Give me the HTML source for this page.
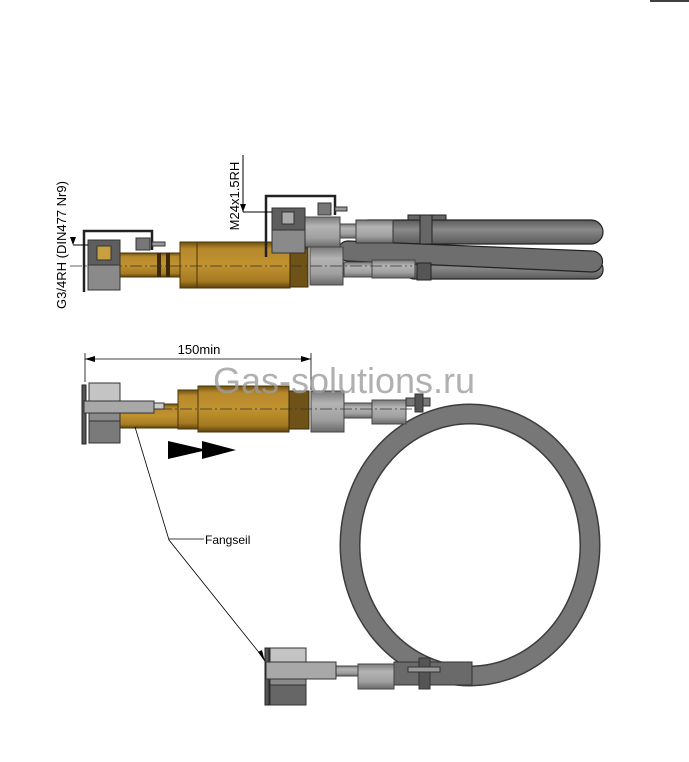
<!DOCTYPE html>
<html><head><meta charset="utf-8"><style>
html,body{margin:0;padding:0;background:#fff;width:689px;height:762px;overflow:hidden}
svg{display:block}
text{font-family:"Liberation Sans",Arial,sans-serif}
</style></head><body>
<svg width="689" height="762" viewBox="0 0 689 762" xmlns="http://www.w3.org/2000/svg">
<defs>
<linearGradient id="br" x1="0" y1="0" x2="0" y2="1">
<stop offset="0" stop-color="#6e4f12"/><stop offset="0.15" stop-color="#b8892c"/><stop offset="0.5" stop-color="#c0922f"/><stop offset="0.85" stop-color="#a67a22"/><stop offset="1" stop-color="#5e430f"/></linearGradient>
<linearGradient id="gr" x1="0" y1="0" x2="0" y2="1">
<stop offset="0" stop-color="#7a7a7a"/><stop offset="0.3" stop-color="#b4b4b4"/><stop offset="0.7" stop-color="#a0a0a0"/><stop offset="1" stop-color="#6a6a6a"/></linearGradient>
<linearGradient id="hs" x1="0" y1="0" x2="0" y2="1">
<stop offset="0" stop-color="#5a5a5a"/><stop offset="0.4" stop-color="#8a8a8a"/><stop offset="1" stop-color="#5a5a5a"/></linearGradient>
</defs>
<line x1="650" y1="1" x2="689" y2="1" stroke="#000" stroke-width="1.5"/>

<!-- TOP hoses (absolute) -->
<rect x="356" y="220" width="247" height="24" rx="12" fill="url(#hs)" stroke="#222" stroke-width="1.2"/>
<rect x="405" y="260" width="198" height="19" rx="9" fill="url(#hs)" stroke="#222" stroke-width="1.2"/>
<path d="M348,241 L592,251 A10.5,10.5 0 0 1 592,272 L348,261 A10,10 0 0 1 348,241 Z" fill="#6e6e6e" stroke="#222" stroke-width="1.2"/>
<rect x="356" y="220" width="37" height="23" fill="url(#gr)" stroke="#333"/>
<rect x="339" y="224" width="17" height="14" fill="url(#gr)" stroke="#444"/>
<rect x="408" y="215" width="38" height="5" fill="#666" stroke="#222"/>
<rect x="420" y="215" width="12" height="29" fill="#666" stroke="#222"/>
<rect x="344" y="262" width="30" height="15" fill="url(#gr)" stroke="#444"/>
<rect x="372" y="260" width="43" height="18" fill="url(#gr)" stroke="#444"/>
<rect x="417" y="263" width="14" height="17" fill="#555" stroke="#222"/>

<g transform="translate(0,-12)">
<rect x="310" y="259" width="33" height="38" fill="url(#gr)" stroke="#444"/>
<rect x="120" y="265" width="60" height="24" fill="url(#br)" stroke="#4a3508"/>
<rect x="157" y="265" width="4" height="24" fill="#3a2806"/><rect x="166" y="265" width="4" height="24" fill="#3a2806"/>
<rect x="180" y="254" width="17" height="46" fill="url(#br)" stroke="#4a3508"/>
<rect x="197" y="254" width="93" height="46" fill="url(#br)" stroke="#4a3508"/>
<rect x="290" y="260" width="18" height="39" fill="#6e5218" stroke="#3a2806"/>
<line x1="70" y1="278" x2="412" y2="278" stroke="#333" stroke-width="0.8" stroke-dasharray="12,3,2,3"/>
<rect x="88" y="252" width="32" height="50" fill="#8a8a8a" stroke="#333"/>
<rect x="88" y="252" width="32" height="25" fill="#5e5e5e" stroke="#333"/>
<rect x="97" y="258" width="14" height="14" fill="#c8a040" stroke="#333"/>
<path d="M84,304 V243 H152 V262" fill="none" stroke="#222" stroke-width="2.5"/>
<rect x="136" y="250" width="14" height="12" fill="#777" stroke="#333"/>
<rect x="152" y="254" width="13" height="4" fill="#999" stroke="#333"/>
<rect x="305" y="229" width="35" height="30" fill="url(#gr)" stroke="#444"/>
<rect x="272" y="220" width="33" height="45" fill="#8a8a8a" stroke="#333"/>
<rect x="272" y="220" width="33" height="22" fill="#5e5e5e" stroke="#333"/>
<rect x="282" y="224" width="12" height="12" fill="#aaa" stroke="#333"/>
<path d="M266,269 V208 H335 V227" fill="none" stroke="#222" stroke-width="2.5"/>
<rect x="318" y="215" width="13" height="12" fill="#777" stroke="#333"/>
<rect x="335" y="219" width="12" height="4" fill="#999" stroke="#333"/>
</g>
<line x1="243" y1="155" x2="243" y2="212" stroke="#000"/>
<line x1="243" y1="212" x2="272" y2="212" stroke="#000"/>
<polygon points="240,204 246,204 243,212" fill="#000"/>
<line x1="73" y1="245" x2="88" y2="245" stroke="#000"/>
<polygon points="70,237 76,237 73,245" fill="#000"/>
<text transform="translate(66,245) rotate(-90)" font-size="13" text-anchor="middle">G3/4RH (DIN477 Nr9)</text>
<text transform="translate(239,196) rotate(-90)" font-size="13" text-anchor="middle">M24x1.5RH</text>

<!-- BOTTOM ASSEMBLY -->
<line x1="85" y1="353" x2="85" y2="382" stroke="#000" stroke-width="0.8"/>
<line x1="311" y1="353" x2="311" y2="390" stroke="#000" stroke-width="0.8"/>
<line x1="85" y1="359" x2="311" y2="359" stroke="#000" stroke-width="0.8"/>
<polygon points="85,359 95,356 95,362" fill="#000"/><polygon points="311,359 301,356 301,362" fill="#000"/>
<text x="199" y="354" font-size="13" text-anchor="middle">150min</text>

<ellipse cx="470" cy="545" rx="120" ry="131" fill="none" stroke="#3c3c3c" stroke-width="21"/>
<ellipse cx="470" cy="545" rx="120" ry="131" fill="none" stroke="#777" stroke-width="18"/>

<rect x="120" y="404" width="58" height="24" fill="url(#br)" stroke="#4a3508"/>
<rect x="178" y="390" width="20" height="39" fill="url(#br)" stroke="#4a3508"/>
<rect x="198" y="386" width="91" height="46" fill="url(#br)" stroke="#4a3508"/>
<rect x="289" y="391" width="20" height="38" fill="#6e5218" stroke="#3a2806"/>
<rect x="311" y="391" width="33" height="41" fill="url(#gr)" stroke="#444"/>
<rect x="344" y="403" width="28" height="15" fill="url(#gr)" stroke="#444"/>
<rect x="372" y="400" width="34" height="24" fill="url(#gr)" stroke="#444"/>
<rect x="406" y="398" width="24" height="8" fill="#777" stroke="#333"/>
<rect x="415" y="394" width="8" height="18" fill="#555" stroke="#333"/>
<line x1="120" y1="409" x2="420" y2="409" stroke="#333" stroke-width="0.8" stroke-dasharray="12,3,2,3"/>
<rect x="82" y="385" width="4" height="59" fill="#555" stroke="#222"/>
<rect x="89" y="383" width="31" height="60" fill="#8a8a8a" stroke="#333"/>
<rect x="89" y="383" width="31" height="18" fill="#c4c4c4" stroke="#333"/>
<rect x="89" y="421" width="31" height="22" fill="#7a7a7a" stroke="#333"/>
<rect x="84" y="401" width="70" height="12" fill="#a8a8a8" stroke="#333"/>
<rect x="154" y="403" width="10" height="6" fill="#ccc" stroke="#333"/>

<text x="344" y="393" font-size="36" fill="#9c9c9c" fill-opacity="0.8" text-anchor="middle">Gas-solutions.ru</text>

<polygon points="168,441 207,450 168,459" fill="#000"/>
<polygon points="202,441 236,450 202,459" fill="#000"/>

<polyline points="135,427 169,540 265,660" fill="none" stroke="#000" stroke-width="0.8"/>
<polygon points="265,662 258,652 262,650" fill="#000"/>
<line x1="169" y1="539" x2="204" y2="539" stroke="#000" stroke-width="0.8"/>
<text x="205" y="544" font-size="12">Fangseil</text>

<rect x="394" y="662" width="78" height="23" fill="#6a6a6a" stroke="#333"/>
<rect x="419" y="658" width="11" height="31" fill="#555" stroke="#333"/>
<rect x="408" y="667" width="32" height="5" fill="#999" stroke="#333"/>
<rect x="358" y="664" width="36" height="25" fill="url(#gr)" stroke="#444"/>
<rect x="336" y="666" width="22" height="10" fill="url(#gr)" stroke="#444"/>
<rect x="265" y="648" width="4" height="57" fill="#555" stroke="#222"/>
<rect x="270" y="648" width="36" height="57" fill="#8a8a8a" stroke="#333"/>
<rect x="270" y="648" width="36" height="15" fill="#c4c4c4" stroke="#333"/>
<rect x="270" y="685" width="36" height="20" fill="#666" stroke="#333"/>
<rect x="266" y="662" width="70" height="17" fill="#a8a8a8" stroke="#333"/>
</svg>
</body></html>
